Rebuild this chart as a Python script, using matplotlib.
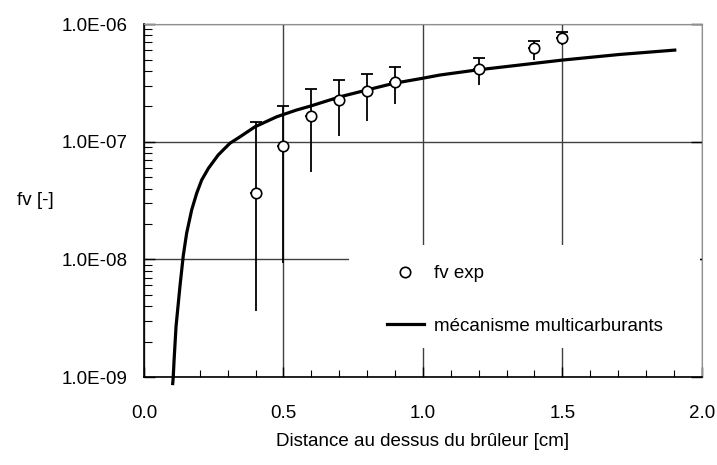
import matplotlib
matplotlib.use("Agg")
import matplotlib.pyplot as plt
from matplotlib.patches import Rectangle
from matplotlib.ticker import MultipleLocator, LogLocator, FuncFormatter, NullFormatter
import numpy as np

plt.rcParams['font.family'] = ['Liberation Sans', 'DejaVu Sans']

# experimental soot volume fraction
x_exp = [0.4, 0.5, 0.6, 0.7, 0.8, 0.9, 1.2, 1.4, 1.5]
fv_exp = [3.7e-8, 9.2e-8, 1.66e-7, 2.25e-7, 2.7e-7, 3.2e-7, 4.15e-7, 6.3e-7, 7.6e-7]
fv_hi = [1.46e-7, 2.02e-7, 2.8e-7, 3.34e-7, 3.76e-7, 4.34e-7, 5.17e-7, 7.2e-7, 8.55e-7]
fv_lo = [3.66e-9, 9.3e-9, 5.5e-8, 1.12e-7, 1.5e-7, 2.08e-7, 3.03e-7, 5.0e-7, 6.6e-7]

# model: mecanisme multicarburants
x_mod = [0.103, 0.105, 0.108, 0.115, 0.129, 0.141, 0.153, 0.171, 0.189, 0.207,
         0.231, 0.266, 0.308, 0.344, 0.398, 0.476, 0.547, 0.597, 0.703, 0.822,
         0.894, 0.995, 1.061, 1.192, 1.348, 1.499, 1.706, 1.903]
fv_mod = [8.8e-10, 1.0e-9, 1.4e-9, 2.7e-9, 5.9e-9, 1.08e-8, 1.67e-8, 2.63e-8, 3.65e-8, 4.73e-8,
          5.94e-8, 7.71e-8, 9.7e-8, 1.1e-7, 1.34e-7, 1.63e-7, 1.86e-7, 2.01e-7, 2.41e-7, 2.84e-7,
          3.13e-7, 3.45e-7, 3.69e-7, 4.07e-7, 4.49e-7, 4.94e-7, 5.52e-7, 6.01e-7]

fig = plt.figure(figsize=(7.17, 4.65), dpi=100)
ax = fig.add_axes([0.2008, 0.1892, 0.778, 0.759])

x_exp = np.array(x_exp)
fv_exp = np.array(fv_exp)
up = np.array(fv_hi) - fv_exp
down = fv_exp - np.array(fv_lo)
zeros = np.zeros_like(fv_exp)

# upper bars with caps, lower bars without
ax.errorbar(x_exp, fv_exp, yerr=[zeros, up], fmt='none', ecolor='black',
            elinewidth=1.3, capsize=4, capthick=1.3, zorder=3)
ax.errorbar(x_exp, fv_exp, yerr=[down, zeros], fmt='none', ecolor='black',
            elinewidth=1.3, capsize=0, zorder=3)
ax.plot(x_mod, fv_mod, color='black', lw=2.3, zorder=4, clip_on=False,
        label='mécanisme multicarburants')
ax.plot(x_exp, fv_exp, 'o', mfc='white', mec='black', ms=7.5, mew=1.2,
        zorder=5, label='fv exp', linestyle='none')

ax.set_yscale('log')
ax.set_xlim(0, 2.0)
ax.set_ylim(1e-9, 1e-6)

ax.xaxis.set_major_locator(MultipleLocator(0.5))
ax.xaxis.set_minor_locator(MultipleLocator(0.1))
ax.xaxis.set_major_formatter(FuncFormatter(lambda v, p: '%.1f' % v))
ax.xaxis.set_minor_formatter(NullFormatter())
ax.yaxis.set_major_locator(LogLocator(base=10))
ax.yaxis.set_minor_locator(LogLocator(base=10, subs=np.arange(2, 10)))
ax.yaxis.set_minor_formatter(NullFormatter())
ax.yaxis.set_major_formatter(FuncFormatter(lambda v, p: '%.1E' % v))

ax.tick_params(axis='both', which='both', direction='in', labelsize=13.5)
ax.tick_params(axis='x', which='major', length=7, width=1, pad=20)
ax.tick_params(axis='x', which='minor', length=5, width=0.8)
ax.tick_params(axis='y', which='major', length=8, width=1, right=True, pad=12)
ax.tick_params(axis='y', which='minor', length=6, width=0.8)

ax.set_axisbelow(True)
ax.grid(True, which='major', color='#404040', lw=1)

for s in ['top', 'right']:
    ax.spines[s].set_color('#909090')
for s in ['left', 'bottom']:
    ax.spines[s].set_color('black')
    ax.spines[s].set_linewidth(1.2)

# white box behind the legend hides the grid
ax.add_patch(Rectangle((0.367, 0.082), 0.629, 0.292, transform=ax.transAxes,
                       facecolor='white', edgecolor='none', zorder=1))

h, l = ax.get_legend_handles_labels()
ax.legend(h[::-1], l[::-1], loc='center left', bbox_to_anchor=(0.435, 0.218),
          frameon=False, fontsize=13.5, handlelength=2.0, handletextpad=0.5,
          labelspacing=1.9, borderpad=0, borderaxespad=0)

ax.set_xlabel('Distance au dessus du brûleur [cm]', fontsize=13.5, labelpad=8)
ax.set_ylabel('fv [-]', fontsize=13.5, rotation=0, labelpad=19, va='center')

fig.savefig('out.png', dpi=100)
